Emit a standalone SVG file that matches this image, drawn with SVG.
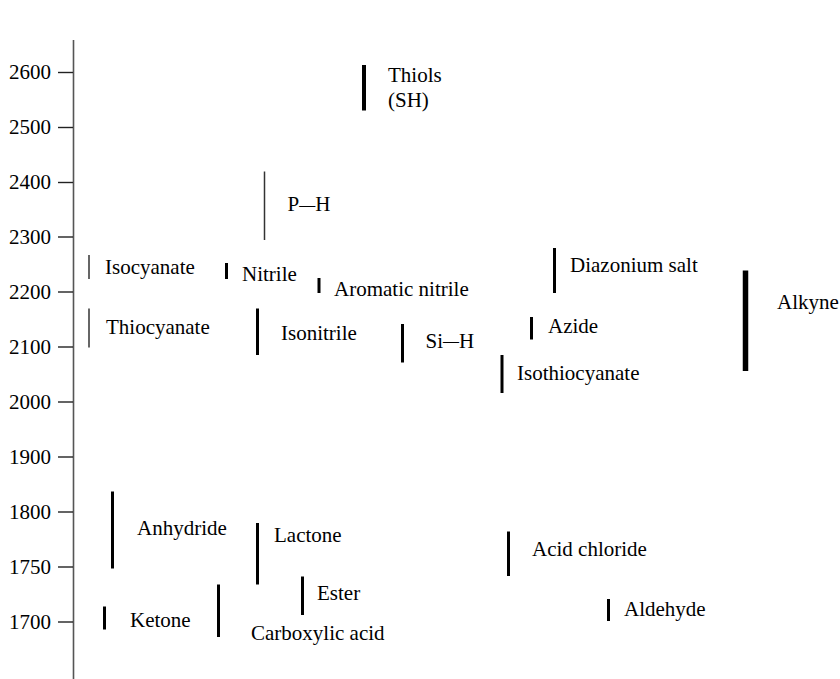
<svg xmlns="http://www.w3.org/2000/svg" width="840" height="679" viewBox="0 0 840 679">
  <style>
    text { font-family: "Liberation Serif", Tinos, "Times New Roman", Times, "DejaVu Serif", serif; font-size: 21px; fill: #000; }
    .num { text-anchor: end; }
    .dash { font-size: 16px; }
    .axis { stroke: #555; stroke-width: 1.6; fill: none; }
    .tick { stroke: #222; stroke-width: 1.4; }
    .thin { stroke: #333; stroke-width: 1.5; }
    .mid { stroke: #000; stroke-width: 3; }
    .bold { stroke: #000; stroke-width: 4; }
    .heavy { stroke: #000; stroke-width: 5.5; }
  </style>
  <rect width="840" height="679" fill="#fff"/>

  <!-- wavenumber axis -->
  <g id="axis">
    <line class="axis" x1="73.5" y1="40" x2="73.5" y2="679"/>
    <g>
      <line class="tick" x1="58" y1="72.5" x2="73" y2="72.5"/>
      <line class="tick" x1="58" y1="127.5" x2="73" y2="127.5"/>
      <line class="tick" x1="58" y1="182.5" x2="73" y2="182.5"/>
      <line class="tick" x1="58" y1="237" x2="73" y2="237"/>
      <line class="tick" x1="58" y1="292" x2="73" y2="292"/>
      <line class="tick" x1="58" y1="347" x2="73" y2="347"/>
      <line class="tick" x1="58" y1="402" x2="73" y2="402"/>
      <line class="tick" x1="58" y1="457" x2="73" y2="457"/>
      <line class="tick" x1="58" y1="512" x2="73" y2="512"/>
      <line class="tick" x1="58" y1="567" x2="73" y2="567"/>
      <line class="tick" x1="58" y1="622" x2="73" y2="622"/>
    </g>
    <text class="num" x="51" y="79">2600</text>
    <text class="num" x="51" y="134">2500</text>
    <text class="num" x="51" y="189">2400</text>
    <text class="num" x="51" y="243.5">2300</text>
    <text class="num" x="51" y="298.5">2200</text>
    <text class="num" x="51" y="353.5">2100</text>
    <text class="num" x="51" y="408.5">2000</text>
    <text class="num" x="51" y="463.5">1900</text>
    <text class="num" x="51" y="518.5">1800</text>
    <text class="num" x="51" y="573.5">1750</text>
    <text class="num" x="51" y="628.5">1700</text>
  </g>

  <!-- absorption ranges -->
  <g id="thiols">
    <line class="bold" x1="364" y1="65" x2="364" y2="110.5"/>
    <text x="388" y="82">Thiols</text>
    <text x="388" y="107">(SH)</text>
  </g>
  <g id="p-h">
    <line class="thin" x1="264.5" y1="171.5" x2="264.5" y2="240"/>
    <text x="287.5" y="211">P<tspan class="dash" dy="-1.5">—</tspan><tspan dy="1.5">H</tspan></text>
  </g>
  <g id="isocyanate">
    <line class="thin" x1="89" y1="255" x2="89" y2="279"/>
    <text x="105" y="274">Isocyanate</text>
  </g>
  <g id="nitrile">
    <line class="mid" x1="226.5" y1="263" x2="226.5" y2="279"/>
    <text x="242" y="280.5">Nitrile</text>
  </g>
  <g id="aromatic-nitrile">
    <line class="mid" x1="319" y1="278" x2="319" y2="293"/>
    <text x="334" y="296">Aromatic nitrile</text>
  </g>
  <g id="diazonium-salt">
    <line class="mid" x1="554.5" y1="248" x2="554.5" y2="293"/>
    <text x="570" y="272">Diazonium salt</text>
  </g>
  <g id="thiocyanate">
    <line class="thin" x1="89" y1="308.5" x2="89" y2="347.5"/>
    <text x="106" y="334">Thiocyanate</text>
  </g>
  <g id="isonitrile">
    <line class="mid" x1="257.5" y1="308.5" x2="257.5" y2="355"/>
    <text x="281" y="340">Isonitrile</text>
  </g>
  <g id="si-h">
    <line class="mid" x1="402.5" y1="324" x2="402.5" y2="362.5"/>
    <text x="425.5" y="347.5">Si<tspan class="dash" dy="-1.5">—</tspan><tspan dy="1.5">H</tspan></text>
  </g>
  <g id="azide">
    <line class="mid" x1="531.5" y1="317" x2="531.5" y2="339.5"/>
    <text x="548" y="333">Azide</text>
  </g>
  <g id="isothiocyanate">
    <line class="mid" x1="502" y1="355" x2="502" y2="393"/>
    <text x="517" y="380">Isothiocyanate</text>
  </g>
  <g id="alkyne">
    <line class="heavy" x1="745.5" y1="270.5" x2="745.5" y2="371"/>
    <text x="777" y="309">Alkyne</text>
  </g>
  <g id="anhydride">
    <line class="mid" x1="112.5" y1="491.5" x2="112.5" y2="568.5"/>
    <text x="137" y="535">Anhydride</text>
  </g>
  <g id="lactone">
    <line class="mid" x1="257.5" y1="523" x2="257.5" y2="584.5"/>
    <text x="274" y="542">Lactone</text>
  </g>
  <g id="ester">
    <line class="mid" x1="302.5" y1="576.5" x2="302.5" y2="615"/>
    <text x="317" y="600">Ester</text>
  </g>
  <g id="ketone">
    <line class="mid" x1="104.5" y1="606.5" x2="104.5" y2="629.5"/>
    <text x="130" y="627">Ketone</text>
  </g>
  <g id="carboxylic-acid">
    <line class="mid" x1="218.5" y1="584.5" x2="218.5" y2="637"/>
    <text x="251" y="640">Carboxylic acid</text>
  </g>
  <g id="acid-chloride">
    <line class="mid" x1="508.5" y1="531.5" x2="508.5" y2="576"/>
    <text x="532" y="556">Acid chloride</text>
  </g>
  <g id="aldehyde">
    <line class="mid" x1="608.5" y1="599" x2="608.5" y2="621"/>
    <text x="624" y="616">Aldehyde</text>
  </g>
</svg>
